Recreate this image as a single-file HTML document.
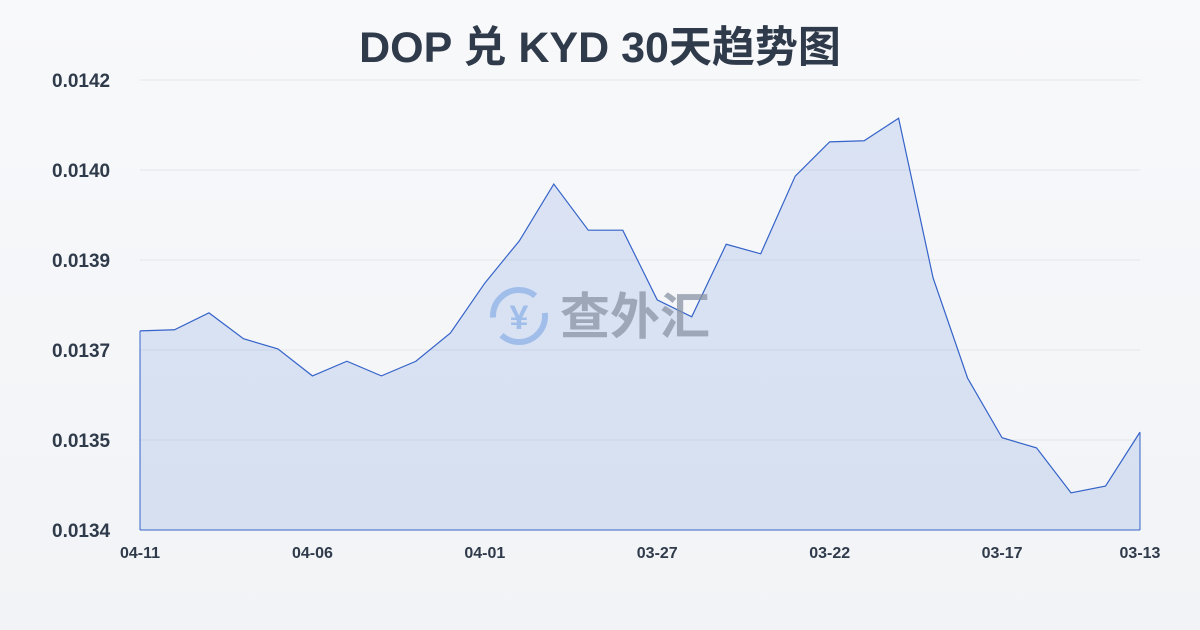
<!DOCTYPE html>
<html><head><meta charset="utf-8"><style>
body{margin:0;width:1200px;height:630px;background:linear-gradient(#f8f9fb,#f1f3f6);font-family:"Liberation Sans","Noto Sans CJK SC",sans-serif;overflow:hidden}
svg{position:absolute;left:0;top:0}
</style></head><body>
<svg id="c" width="1200" height="630">
<text x="600" y="62" text-anchor="middle" font-size="43" font-weight="bold" fill="#2f3a4a" font-family="Liberation Sans, Noto Sans CJK SC, sans-serif">DOP 兑 KYD 30天趋势图</text>
<g id="grid"></g><g id="marks"></g><g id="axes"></g>
<g opacity="0.75">
<circle cx="519" cy="316" r="26" fill="none" stroke="#8fb3e8" stroke-width="6" stroke-dasharray="60 20"/>
<text x="519" y="329" text-anchor="middle" font-size="34" font-weight="bold" fill="#8fb3e8">¥</text>
<text x="560" y="334" font-size="50" font-weight="bold" fill="#8a94a4" font-family="Noto Sans CJK SC, sans-serif">查外汇</text>
</g>
</svg>
<script>
const categories=["04-11","04-10","04-09","04-08","04-07","04-06","04-05","04-04","04-03","04-02","04-01","03-31","03-30","03-29","03-28","03-27","03-26","03-25","03-24","03-23","03-22","03-21","03-20","03-19","03-18","03-17","03-16","03-15","03-14","03-13"];
const values=[0.013754,0.013756,0.013786,0.013740,0.013722,0.013674,0.013700,0.013674,0.013700,0.013750,0.013839,0.013914,0.014015,0.013933,0.013933,0.013809,0.013779,0.013908,0.013891,0.014029,0.014090,0.014092,0.014132,0.013848,0.013670,0.013564,0.013546,0.013466,0.013478,0.013574];
const tickValues=[0.0142,0.01404,0.01388,0.01372,0.01356,0.0134];
const tickLabels=["0.0142","0.0140","0.0139","0.0137","0.0135","0.0134"];
const xLabelIdx=[0,5,10,15,20,25,29];
const yMin=0.0134,yMax=0.0142,L=140,R=1140,T=80,B=530;
const xs=i=>L+(R-L)*i/(categories.length-1);
const ys=v=>B-(v-yMin)/(yMax-yMin)*(B-T);
const NS="http://www.w3.org/2000/svg";
function mk(p,t,a){const e=document.createElementNS(NS,t);for(const k in a)e.setAttribute(k,a[k]);p.appendChild(e);return e;}
const grid=document.getElementById('grid'),marks=document.getElementById('marks'),axes=document.getElementById('axes');
tickValues.forEach((v,i)=>{
 const l=mk(grid,'line',{x1:L,x2:R,y1:ys(v),y2:ys(v),stroke:'#e3e6eb','stroke-width':1});
 
 
 const t=mk(axes,'text',{x:52,y:ys(v)+7,'text-anchor':'start','font-size':19,'font-weight':'bold',fill:'#2f3a4a'});
 t.textContent=tickLabels[i];
 
 
});
xLabelIdx.forEach(i=>{
 const t=mk(axes,'text',{x:xs(i),y:558,'text-anchor':'middle','font-size':16,'font-weight':'bold',fill:'#2f3a4a'});
 t.textContent=categories[i];
 
 
});
let pts=values.map((v,i)=>xs(i)+','+ys(v)).join(' ');
const area=mk(marks,'polygon',{points:L+','+B+' '+pts+' '+R+','+B,fill:'rgba(120,155,225,0.22)'});


const line=mk(marks,'polyline',{points:pts,fill:'none',stroke:'#3563c9','stroke-width':1.2});


const ax=mk(axes,'line',{x1:L,x2:R,y1:B,y2:B,stroke:'#3563c9','stroke-width':1});


const ay=mk(axes,'line',{x1:L,x2:L,y1:ys(values[0]),y2:B,stroke:'#3563c9','stroke-width':1});


const ar=mk(axes,'line',{x1:R,x2:R,y1:ys(values[values.length-1]),y2:B,stroke:'#3563c9','stroke-width':1});


</script>
</body></html>
